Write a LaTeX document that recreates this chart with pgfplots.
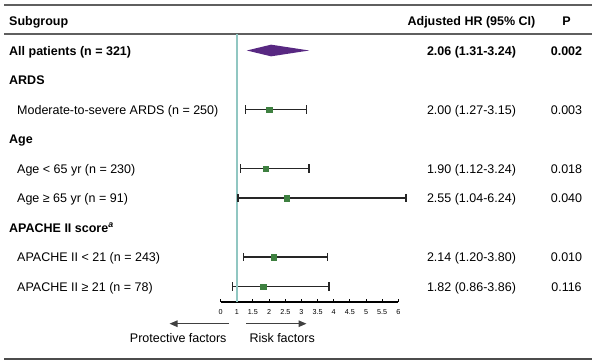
\documentclass[border=0pt]{standalone}
\usepackage{fontspec}
\setmainfont{Liberation Sans}
\usepackage{pgfplots}
\pgfplotsset{compat=1.18}
\usetikzlibrary{arrows.meta}
\definecolor{diam}{RGB}{88,40,130}
\definecolor{sq}{RGB}{62,128,64}
\definecolor{refl}{RGB}{145,199,194}
\definecolor{rulec}{RGB}{95,95,95}
\begin{document}
\begin{tikzpicture}[every node/.style={font=\fontsize{12.5bp}{15bp}\selectfont, inner sep=0pt}]
\path[use as bounding box] (0,0) rectangle (600bp,-361bp);
% rules
\draw[rulec, line width=1.2bp] (4bp,-5bp) -- (592bp,-5bp);
\draw[rulec, line width=1.2bp] (4bp,-34bp) -- (592bp,-34bp);
\draw[rulec!80!black, line width=1.2bp] (4bp,-359bp) -- (592bp,-359bp);
% header
\node[anchor=base west] at (9bp,-25bp) {\bfseries Subgroup};
\node[anchor=base] at (471.5bp,-25bp) {\bfseries Adjusted HR (95\% CI)};
\node[anchor=base] at (566.5bp,-25bp) {\bfseries P};
% rows
\node[anchor=base west] at (9bp,-55bp) {\bfseries All patients (n = 321)};
\node[anchor=base] at (471.5bp,-55bp) {\bfseries 2.06 (1.31-3.24)};
\node[anchor=base] at (566.5bp,-55bp) {\bfseries 0.002};
\node[anchor=base west] at (9bp,-84.5bp) {\bfseries ARDS};
\node[anchor=base west] at (17bp,-114bp) {Moderate-to-severe ARDS (n = 250)};
\node[anchor=base] at (471.5bp,-114bp) {2.00 (1.27-3.15)};
\node[anchor=base] at (566.5bp,-114bp) {0.003};
\node[anchor=base west] at (9bp,-143.5bp) {\bfseries Age};
\node[anchor=base west] at (17bp,-173bp) {Age < 65 yr (n = 230)};
\node[anchor=base] at (471.5bp,-173bp) {1.90 (1.12-3.24)};
\node[anchor=base] at (566.5bp,-173bp) {0.018};
\node[anchor=base west] at (17bp,-202.5bp) {Age ≥ 65 yr (n = 91)};
\node[anchor=base] at (471.5bp,-202.5bp) {2.55 (1.04-6.24)};
\node[anchor=base] at (566.5bp,-202.5bp) {0.040};
\node[anchor=base west] at (9bp,-232bp) {\bfseries APACHE II score\textsuperscript{\itshape a}};
\node[anchor=base west] at (17bp,-261.5bp) {APACHE II < 21 (n = 243)};
\node[anchor=base] at (471.5bp,-261.5bp) {2.14 (1.20-3.80)};
\node[anchor=base] at (566.5bp,-261.5bp) {0.010};
\node[anchor=base west] at (17bp,-291bp) {APACHE II ≥ 21 (n = 78)};
\node[anchor=base] at (471.5bp,-291bp) {1.82 (0.86-3.86)};
\node[anchor=base] at (566.5bp,-291bp) {0.116};
% arrows
\draw[black!75, line width=1.2bp, -{Triangle[length=8bp,width=6.5bp]}] (229bp,-323.7bp) -- (169.5bp,-323.7bp);
\draw[black!75, line width=1.2bp, -{Triangle[length=8bp,width=6.5bp]}] (246bp,-323.7bp) -- (306.5bp,-323.7bp);
\node[anchor=base east] at (226.7bp,-342.5bp) {Protective factors};
\node[anchor=base west] at (249.3bp,-342.5bp) {Risk factors};
\begin{axis}[at={(220.7bp,-302bp)}, anchor=south west, scale only axis,
  width=177.6bp, height=268bp, xmin=0.5, xmax=6, ymin=-8.525, ymax=0.559,
  clip=false, axis x line=bottom, axis y line=none,
  axis line style={-, line width=1.1bp, black},
  xtick={0.5,1,1.5,2,2.5,3,3.5,4,4.5,5,5.5,6},
  xticklabels={0,1,1.5,2,2.5,3,3.5,4,4.5,5,5.5,6},
  tick align=inside, major tick length=3.5bp,
  tick style={black, line width=1bp},
  xticklabel style={font=\fontsize{7.2bp}{9bp}\selectfont, anchor=base, yshift=-12.3bp, inner sep=0pt}]
% confidence intervals
\addplot[black!85, line width=1.4bp, mark=|, mark size=4.2bp, mark options={line width=1.4bp}] coordinates {(1.27,-2) (3.15,-2)};
\addplot[black!85, line width=1.4bp, mark=|, mark size=4.2bp, mark options={line width=1.4bp}] coordinates {(1.12,-4) (3.24,-4)};
\addplot[black!85, line width=1.4bp, mark=|, mark size=4.2bp, mark options={line width=1.4bp}] coordinates {(1.04,-5) (6.24,-5)};
\addplot[black!85, line width=1.4bp, mark=|, mark size=4.2bp, mark options={line width=1.4bp}] coordinates {(1.20,-7) (3.80,-7)};
\addplot[black!85, line width=1.4bp, mark=|, mark size=4.2bp, mark options={line width=1.4bp}] coordinates {(0.86,-8) (3.86,-8)};
% reference line
\addplot[refl, line width=1.8bp] coordinates {(1,-8.525) (1,0.559)};
% point estimates
\addplot[only marks, mark=square*, mark size=2.7bp, mark options={fill=sq, draw=sq}] coordinates {(2.00,-2) (1.90,-4) (2.55,-5) (2.14,-7) (1.82,-8)};
% overall diamond
\addplot[fill=diam, draw=none] coordinates {(1.31,0) (2.06,0.198) (3.24,0) (2.06,-0.198)} -- cycle;
\end{axis}
\end{tikzpicture}
\end{document}
